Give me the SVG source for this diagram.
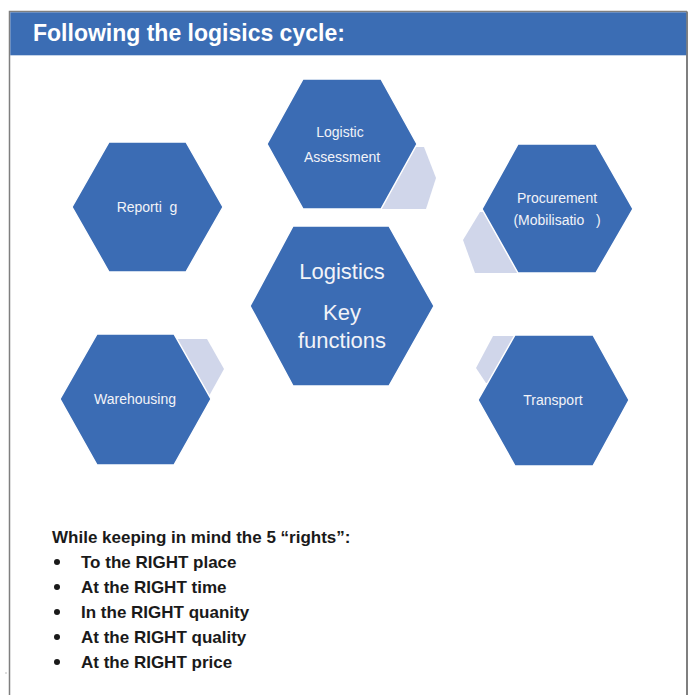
<svg xmlns="http://www.w3.org/2000/svg" width="690" height="695" viewBox="0 0 690 695">
  <style>
    .hex { fill: #3b6cb4; stroke: #ffffff; stroke-width: 1.5; }
    .link { fill: #d0d6ea; }
    .lbl { font-family: "Liberation Sans", Arial, sans-serif; fill: #f2f3f8; text-anchor: middle; }
    .small { font-size: 14px; }
    .big { font-size: 22px; }
    .title { font-family: "Liberation Sans", Arial, sans-serif; font-weight: bold; font-size: 23px; fill: #ffffff; }
    .list { font-family: "Liberation Sans", Arial, sans-serif; font-weight: bold; font-size: 17px; fill: #1a1a1a; }
  </style>

  <rect x="0" y="0" width="690" height="695" fill="#ffffff"/>

  <!-- page frame and header band -->
  <path d="M9.5 700 V11.5 H687" fill="none" stroke="#7f7f7f" stroke-width="1.5"/>
  <path d="M687 11.5 V700" fill="none" stroke="#7f7f7f" stroke-width="2"/>
  <rect x="10.3" y="12.3" width="675.9" height="43" fill="#3b6db4"/>
  <text class="title" x="33" y="41">Following the logisics cycle:</text>
  <rect x="5.5" y="672.5" width="1" height="1" fill="#808080"/>

  <!-- cycle segments between the outer hexagons -->
  <g id="connectors">
    <polygon class="link" points="370,209 406,147 424,147 436,178 426,209"/>
    <polygon class="link" points="500,212 480,212 463,240 475,273 520,273"/>
    <polygon class="link" points="170,339 207,339 224,369 209,396 195,396"/>
    <polygon class="link" points="493,336 520,336 520,383 486,383 476,368"/>
  </g>

  <g id="assessment">
    <polygon class="hex" points="267,144 303,79 381,79 417,144 381,209 303,209"/>
    <text class="lbl small" x="340" y="137">Logistic</text>
    <text class="lbl small" x="342" y="162">Assessment</text>
  </g>

  <g id="procurement">
    <polygon class="hex" points="482,209 518,144 596,144 633,209 596,273 518,273"/>
    <text class="lbl small" x="557" y="203">Procurement</text>
    <text class="lbl small" x="557" y="225" xml:space="preserve">(Mobilisatio   )</text>
  </g>

  <g id="reporting">
    <polygon class="hex" points="72,207 109,142 186,142 223,207 186,272 109,272"/>
    <text class="lbl small" x="147" y="212" xml:space="preserve">Reporti  g</text>
  </g>

  <g id="key-functions">
    <polygon class="hex" points="250,306 293,226 389,226 434,306 389,386 293,386"/>
    <text class="lbl big" x="342" y="279">Logistics</text>
    <text class="lbl big" x="342" y="320">Key</text>
    <text class="lbl big" x="342" y="348">functions</text>
  </g>

  <g id="warehousing">
    <polygon class="hex" points="60,399 97,334 174,334 211,399 174,465 97,465"/>
    <text class="lbl small" x="135" y="404">Warehousing</text>
  </g>

  <g id="transport">
    <polygon class="hex" points="478,400 515,335 593,335 629,400 593,466 515,466"/>
    <text class="lbl small" x="553" y="405">Transport</text>
  </g>

  <!-- the five rights -->
  <g id="rights">
    <text class="list" x="52" y="543">While keeping in mind the 5 “rights”:</text>
    <g fill="#1a1a1a">
      <circle cx="57" cy="562" r="3"/>
      <circle cx="57" cy="587" r="3"/>
      <circle cx="57" cy="612" r="3"/>
      <circle cx="57" cy="637" r="3"/>
      <circle cx="57" cy="662" r="3"/>
    </g>
    <text class="list" x="81" y="568">To the RIGHT place</text>
    <text class="list" x="81" y="593">At the RIGHT time</text>
    <text class="list" x="81" y="618">In the RIGHT quanity</text>
    <text class="list" x="81" y="643">At the RIGHT quality</text>
    <text class="list" x="81" y="668">At the RIGHT price</text>
  </g>
</svg>
